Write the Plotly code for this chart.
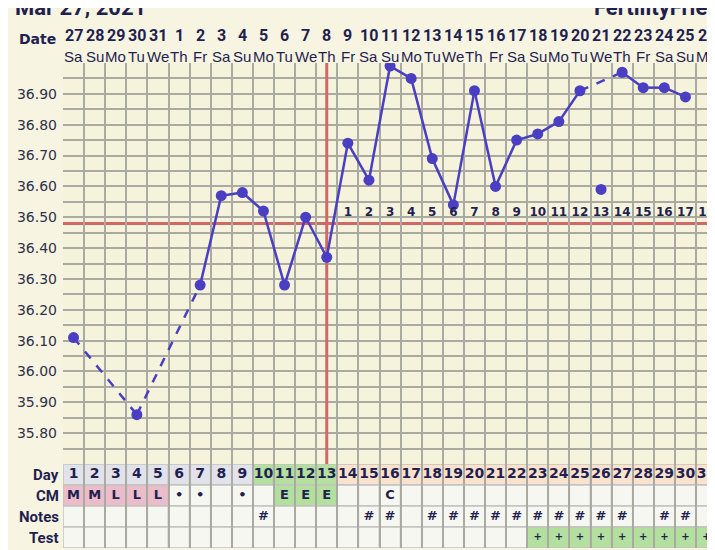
import plotly.graph_objects as go

# ---------------- data ----------------
days = list(range(1, 32))
dates = [27, 28, 29, 30, 31] + list(range(1, 27))
weekdays = (["Sa", "Su", "Mo", "Tu", "We", "Th", "Fr"] * 5)[:31]
temps = [36.11, None, None, 35.86, None, None, 36.28, 36.57, 36.58, 36.52,
         36.28, 36.50, 36.37, 36.74, 36.62, 36.99, 36.95, 36.69, 36.54, 36.91,
         36.60, 36.75, 36.77, 36.81, 36.91, 36.59, 36.97, 36.92, 36.92, 36.89, None]
discarded = [26]
coverline = 36.48
ovulation_day = 13
dpo_labels = [str(i) for i in range(1, 19)]  # days 14..31
ytick_vals = [round(35.70 + 0.05 * i, 2) for i in range(27)]
cm_values = ["M", "M", "L", "L", "L", "•", "•", "", "•", "", "E", "E", "E", "", "",
             "C", "", "", "", "", "", "", "", "", "", "", "", "", "", "", ""]
notes = ["", "", "", "", "", "", "", "", "", "#", "", "", "", "", "#", "#", "", "#",
         "#", "#", "#", "#", "#", "#", "#", "#", "#", "", "#", "#", ""]
tests = [""] * 22 + ["+"] * 9
title_left = "Mar 27, 2021"
title_right = "FertilityFriend"

# ---------------- styles ----------------
NAVY = "#1f1f50"
LINE = "#4a3fc2"
RED = "#d26767"
GRID = "#aaa9a2"
CELL = "#f7f7f2"
LAV = "#e2e2ea"
GREEN = "#b3e09e"
PEACH = "#fbe2cd"
PINK = "#ebbdcb"
BORDER = "#c2c2c0"

fig = go.Figure()

# line segments: solid for consecutive days, dashed across gaps
valid = [(d, t) for d, t in zip(days, temps) if t is not None and d not in discarded]
solid_x, solid_y, dash_x, dash_y = [], [], [], []
for (d0, t0), (d1, t1) in zip(valid[:-1], valid[1:]):
    if d1 - d0 == 1:
        solid_x += [d0, d1, None]
        solid_y += [t0, t1, None]
    else:
        dash_x += [d0, d1, None]
        dash_y += [t0, t1, None]

fig.add_trace(go.Scatter(x=dash_x, y=dash_y, mode="lines",
                         line=dict(color=LINE, width=2.5, dash="dash"),
                         hoverinfo="skip", showlegend=False))
fig.add_trace(go.Scatter(x=solid_x, y=solid_y, mode="lines",
                         line=dict(color=LINE, width=2.5),
                         hoverinfo="skip", showlegend=False))
px_ = [d for d, t in zip(days, temps) if t is not None]
py_ = [t for t in temps if t is not None]
fig.add_trace(go.Scatter(x=px_, y=py_, mode="markers",
                         marker=dict(color=LINE, size=11),
                         showlegend=False))

# DPO labels
fig.add_trace(go.Scatter(x=days[ovulation_day:], y=[coverline + 0.035] * len(dpo_labels),
                         mode="text", text=dpo_labels,
                         textfont=dict(family="DejaVu Sans", size=12, color=NAVY, weight="bold"),
                         hoverinfo="skip", showlegend=False, cliponaxis=False))

# table text (on y2)
for row, vals, size in [(0.5, [str(d) for d in days], 14), (1.5, cm_values, 13),
                        (2.5, notes, 13), (3.5, tests, 10)]:
    fig.add_trace(go.Scatter(x=days, y=[row] * 31, mode="text", text=vals,
                             xaxis="x", yaxis="y2",
                             textfont=dict(family="DejaVu Sans", size=size, color=NAVY, weight="bold"),
                             hoverinfo="skip", showlegend=False, cliponaxis=False))

shapes = []
# table cells
for i, d in enumerate(days):
    day_fill = LAV if d <= 9 else (GREEN if d <= 13 else PEACH)
    cm_fill = PINK if cm_values[i] in ("M", "L") else (GREEN if cm_values[i] == "E" else CELL)
    test_fill = GREEN if tests[i] == "+" else CELL
    for r, fill in enumerate([day_fill, cm_fill, CELL, test_fill]):
        shapes.append(dict(type="rect", xref="x", yref="y2", x0=d - 0.5, x1=d + 0.5,
                           y0=r, y1=r + 1, fillcolor=fill,
                           line=dict(color=BORDER, width=1.5), layer="below"))
# red lines
shapes.append(dict(type="line", xref="x", yref="y", x0=ovulation_day, x1=ovulation_day,
                   y0=35.70, y1=37.00, line=dict(color=RED, width=3), layer="between"))
shapes.append(dict(type="line", xref="paper", yref="y", x0=0, x1=1,
                   y0=coverline, y1=coverline, line=dict(color=RED, width=3), layer="between"))

PLOT_W = 652
annotations = []
for d, dt, wd in zip(days, dates, weekdays):
    annotations.append(dict(x=d, y=1, xref="x", yref="paper", text=str(dt), showarrow=False,
                            yshift=39, font=dict(family="Roboto", size=16, color=NAVY, weight="bold")))
    annotations.append(dict(x=d, y=1, xref="x", yref="paper", text=wd, showarrow=False,
                            yshift=17, font=dict(family="Liberation Sans", size=15, color=NAVY)))
annotations.append(dict(x=0, y=1, xref="paper", yref="paper", text="Date", showarrow=False,
                        xanchor="right", xshift=-5, yshift=34,
                        font=dict(family="DejaVu Sans", size=14, color=NAVY, weight="bold")))
for r, lab in enumerate(["Day", "CM", "Notes", "Test"]):
    annotations.append(dict(x=0, y=r + 0.5, xref="paper", yref="y2", text=lab, showarrow=False,
                            xanchor="right", xshift=-2,
                            font=dict(family="Roboto", size=15, color=NAVY, weight="bold")))
annotations.append(dict(x=(13 - 63) / PLOT_W, y=1, xref="paper", yref="paper", text=title_left,
                        showarrow=False, xanchor="left", yanchor="bottom", yshift=41,
                        font=dict(family="Roboto", size=22, color=NAVY, weight="bold")))
annotations.append(dict(x=(592 - 63) / PLOT_W, y=1, xref="paper", yref="paper", text=title_right,
                        showarrow=False, xanchor="left", yanchor="bottom", yshift=41,
                        font=dict(family="Roboto", size=22, color=NAVY, weight="bold")))

DOM = (548 - 464) / 485

# page body has an 8px margin, so the figure is 8px smaller than the window
fig.update_layout(
    width=707, height=542,
    margin=dict(l=55, r=0, t=55, b=2),
    paper_bgcolor="#f7f4e1",
    plot_bgcolor="#f6f3dc",
    shapes=shapes,
    annotations=annotations,
    xaxis=dict(range=[0.5, 31.4], tickvals=[d - 0.5 for d in days] + [31.5],
               showticklabels=False, ticks="", showgrid=True, gridcolor=GRID, gridwidth=1.5,
               zeroline=False, showline=False, fixedrange=True),
    yaxis=dict(domain=[DOM, 1], range=[35.70, 37.00], tickvals=ytick_vals,
               ticktext=[("%.2f" % v) if (round(v * 100) % 10 == 0 and 35.75 < v < 36.95) else ""
                         for v in ytick_vals],
               ticks="", ticklabelstandoff=5,
               tickfont=dict(family="DejaVu Sans", size=14, color="#30304a"),
               showgrid=True, gridcolor=GRID, gridwidth=1.5, zeroline=False, showline=False),
    yaxis2=dict(domain=[0, DOM], range=[4, 0], visible=False, showgrid=False, zeroline=False),
)

fig.write_html("out.html")
